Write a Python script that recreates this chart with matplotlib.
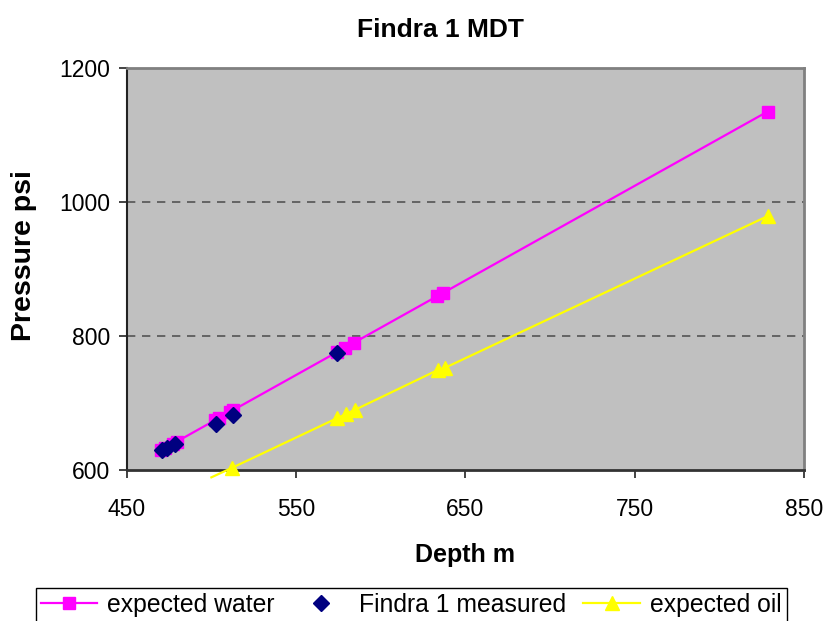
import matplotlib
matplotlib.use("Agg")
import matplotlib.pyplot as plt
from matplotlib.ticker import MultipleLocator

plt.rcParams['font.family'] = ['Liberation Sans', 'DejaVu Sans']

# expected water gradient
water_depth = [470.5, 472.5, 477.5, 479.5, 502, 504.5, 511, 513, 574, 579, 584, 633, 636.5, 828.3]
water_press = [629.5, 632.3, 639.4, 642.2, 674.0, 677.5, 686.6, 689.5, 775.5, 782.5, 789.6, 858.8, 863.7, 1134.5]

# measured points
meas_depth = [471, 474, 478.5, 502.5, 512.5, 574]
meas_press = [629.5, 633.5, 638.5, 668, 682, 774]

# expected oil gradient (first point sits under the axis)
oil_depth = [500, 512, 574, 579.5, 585, 634, 638, 828.5]
oil_press = [589, 603, 677, 683.5, 690, 749.5, 752.5, 978.8]

x_ticks = [450, 550, 650, 750, 850]

fig = plt.figure(figsize=(8.29, 6.21), dpi=100)
ax = fig.add_axes([0.1528, 0.2432, 0.9702 - 0.1528, 0.891 - 0.2432])
ax.set_facecolor('#C0C0C0')

ax.plot(water_depth, water_press, color='#FF00FF', lw=1.6, marker='s', ms=8,
        label='expected water', zorder=3)
ax.plot(meas_depth, meas_press, ls='none', color='#000080', marker='D', ms=8,
        label='Findra 1 measured', zorder=4)
ax.plot(oil_depth, oil_press, color='#FFFF00', lw=1.6, marker='^', ms=10,
        markevery=slice(1, None), label='expected oil', zorder=3,
        clip_on=False)

ax.set_xlim(450, 850)
ax.set_ylim(600, 1200)
ax.set_xticks(x_ticks)
ax.yaxis.set_major_locator(MultipleLocator(200))
for yv in [800, 1000]:
    ax.axhline(yv, color='#555555', lw=1.2, ls=(0, (5, 4)), zorder=1)

ax.spines['left'].set_color('#222222')
ax.spines['bottom'].set_color('#333333')
ax.spines['left'].set_linewidth(1.5)
ax.spines['bottom'].set_linewidth(2)
ax.spines['top'].set_color('#808080')
ax.spines['right'].set_color('#808080')
ax.spines['top'].set_linewidth(2)
ax.spines['right'].set_linewidth(2)

ax.tick_params(axis='both', direction='out', length=6, width=1.2, labelsize=16.5,
               color='#222222', pad=6)
ax.tick_params(axis='x', pad=14)

fig.text(0.531, 0.951, 'Findra 1 MDT', fontsize=19, fontweight='bold',
         ha='center', va='center')
ax.set_xlabel('Depth m', fontsize=18, fontweight='bold', labelpad=16)
ax.set_ylabel('Pressure psi', fontsize=20.5, fontweight='bold')
ax.yaxis.set_label_coords(-0.132, 0.532)

fig.legend(loc='upper center', bbox_to_anchor=(0.496, 0.053), ncol=3, fontsize=17.8,
           frameon=True, fancybox=False, edgecolor='#000000', framealpha=1,
           handlelength=2.3, handletextpad=0.4, columnspacing=0.7, borderpad=0.2,
           borderaxespad=0)

fig.savefig('out.png', dpi=100, facecolor='white')
